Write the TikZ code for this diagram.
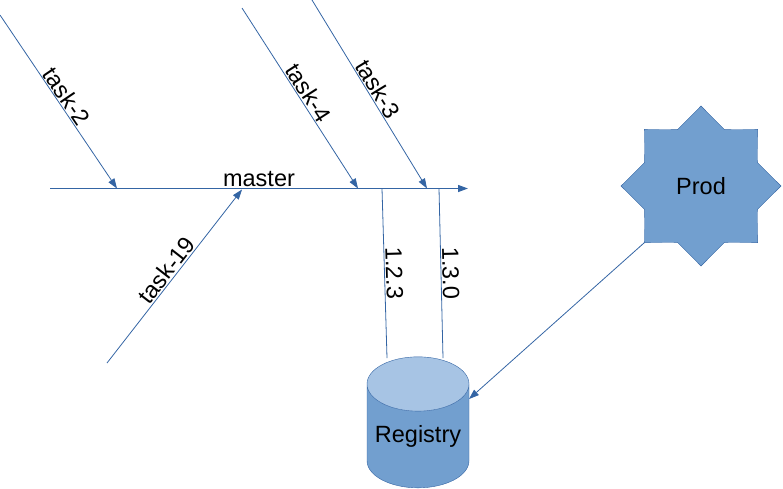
\documentclass[tikz,border=0pt]{standalone}
\usepackage{fontspec}
\setmainfont{Liberation Sans}
\usetikzlibrary{arrows.meta,shapes.geometric}
\definecolor{branch}{RGB}{52,101,164}
\definecolor{store}{RGB}{114,159,207}
\definecolor{storetop}{RGB}{167,196,228}

\begin{document}
\begin{tikzpicture}[x=1pt, y=-1pt, >={Triangle[length=10pt,width=7pt]}, font=\fontsize{23.5}{27}\selectfont]
\useasboundingbox (0,0) rectangle (783,488);
\coordinate (mstart) at (50,188.5);
\coordinate (mend) at (468,188.5);
\node(prod)[star,star points=8,star point ratio=1.31,minimum size=160pt,inner sep=0pt,draw=branch,fill=store,thin] at (701,186) {Prod};
\node(registry)[cylinder,shape border rotate=90,aspect=0.63,minimum height=131pt,minimum width=102pt,inner sep=0pt,draw=branch,thin,cylinder uses custom fill,cylinder body fill=store,cylinder end fill=storetop] at (418,436) {Registry};

\draw[->,branch,line width=1.3pt] (mstart) -- node[above,text=black,inner sep=1pt]{master} (mend);

\coordinate (t2) at (0,15);
\coordinate (t2end) at (117,188.5);
\draw[->,branch,line width=0.8pt] (t2) -- node[above,sloped,pos=0.5,text=black,inner sep=1pt]{task-2} (t2end);
\coordinate (t4) at (242,8);
\coordinate (t4end) at (358,188.5);
\draw[->,branch,line width=0.8pt] (t4) -- node[above,sloped,pos=0.5,text=black,inner sep=1pt]{task-4} (t4end);
\coordinate (t3) at (312,0);
\coordinate (t3end) at (427,188.5);
\draw[->,branch,line width=0.8pt] (t3) -- node[above,sloped,pos=0.5,text=black,inner sep=1pt]{task-3} (t3end);
\coordinate (t19) at (107,363);
\coordinate (t19end) at (242,189.5);
\draw[->,branch,line width=0.8pt] (t19) -- node[above,sloped,pos=0.5,text=black,inner sep=1pt]{task-19} (t19end);

\coordinate (v1) at (382,188.5);
\coordinate (r1) at (387,358);
\draw[branch,line width=0.8pt] (v1) -- node[above,sloped,text=black,inner sep=1pt]{1.2.3} (r1);
\coordinate (v2) at (439,188.5);
\coordinate (r2) at (443,358);
\draw[branch,line width=0.8pt] (v2) -- node[above,sloped,text=black,inner sep=1pt]{1.3.0} (r2);

\draw[->,branch,line width=0.8pt] (prod.outer point 4) -- ([xshift=51pt,yshift=37pt]registry.center);
\end{tikzpicture}
\end{document}
